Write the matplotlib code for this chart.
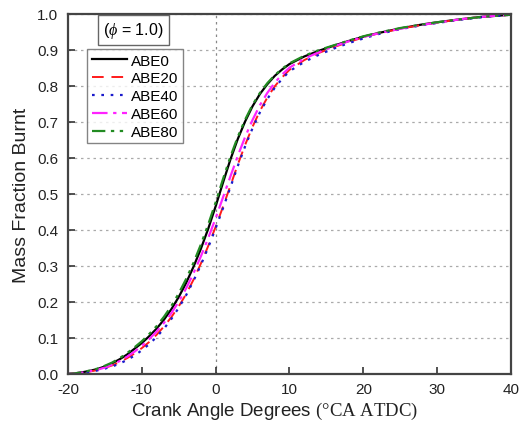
import matplotlib
matplotlib.use("Agg")
import matplotlib.pyplot as plt
import numpy as np

plt.rcParams['font.family'] = ['Liberation Sans', 'DejaVu Sans']
plt.rcParams['mathtext.fontset'] = 'custom'
plt.rcParams['mathtext.rm'] = 'Liberation Serif'
plt.rcParams['mathtext.it'] = 'Liberation Serif:italic'
plt.rcParams['axes.unicode_minus'] = False

crank = [-20, -19, -18, -17, -16, -15, -14, -13, -12, -11, -10, -9, -8, -7, -6, -5, -4, -3, -2, -1,
         0, 1, 2, 3, 4, 5, 6, 7, 8, 9, 10, 12, 14, 16, 18, 20, 22, 25, 28, 30, 33, 36, 40]

abe0 = [0.000, 0.002, 0.005, 0.009, 0.014, 0.021, 0.030, 0.041, 0.054, 0.070, 0.086, 0.105, 0.126,
        0.151, 0.180, 0.214, 0.253, 0.298, 0.348, 0.404, 0.466, 0.532, 0.596, 0.653, 0.702, 0.744,
        0.778, 0.805, 0.828, 0.846, 0.861, 0.882, 0.898, 0.912, 0.925, 0.937, 0.947, 0.960, 0.971,
        0.977, 0.985, 0.992, 0.998]
abe20 = [0.000, 0.002, 0.004, 0.007, 0.011, 0.017, 0.024, 0.033, 0.044, 0.057, 0.072, 0.089, 0.109,
         0.132, 0.158, 0.188, 0.222, 0.262, 0.307, 0.356, 0.409, 0.465, 0.523, 0.582, 0.637, 0.687,
         0.731, 0.768, 0.799, 0.824, 0.845, 0.872, 0.892, 0.908, 0.922, 0.935, 0.946, 0.959, 0.970,
         0.976, 0.985, 0.992, 0.998]
abe40 = [0.000, 0.001, 0.003, 0.006, 0.010, 0.015, 0.021, 0.029, 0.039, 0.051, 0.066, 0.083, 0.103,
         0.126, 0.153, 0.184, 0.219, 0.259, 0.303, 0.352, 0.405, 0.461, 0.519, 0.578, 0.633, 0.683,
         0.727, 0.764, 0.795, 0.820, 0.841, 0.867, 0.887, 0.904, 0.919, 0.932, 0.944, 0.958, 0.969,
         0.975, 0.984, 0.991, 0.998]
abe60 = [0.000, 0.002, 0.004, 0.008, 0.012, 0.018, 0.026, 0.036, 0.048, 0.062, 0.078, 0.097, 0.118,
         0.142, 0.169, 0.201, 0.238, 0.280, 0.327, 0.378, 0.433, 0.491, 0.549, 0.606, 0.659, 0.706,
         0.747, 0.781, 0.809, 0.832, 0.851, 0.876, 0.894, 0.910, 0.924, 0.936, 0.946, 0.959, 0.970,
         0.976, 0.985, 0.992, 0.998]
abe80 = [0.000, 0.002, 0.005, 0.010, 0.015, 0.023, 0.032, 0.044, 0.058, 0.074, 0.091, 0.111, 0.133,
         0.159, 0.189, 0.224, 0.264, 0.309, 0.360, 0.416, 0.477, 0.542, 0.604, 0.659, 0.707, 0.748,
         0.781, 0.808, 0.830, 0.848, 0.863, 0.884, 0.900, 0.913, 0.926, 0.938, 0.948, 0.961, 0.971,
         0.977, 0.985, 0.992, 0.998]

series_names = ["ABE0", "ABE20", "ABE40", "ABE60", "ABE80"]
x_ticks = [-20, -10, 0, 10, 20, 30, 40]
y_ticks = [0.0, 0.1, 0.2, 0.3, 0.4, 0.5, 0.6, 0.7, 0.8, 0.9, 1.0]

fig = plt.figure(figsize=(5.21, 4.27), dpi=100)
ax = fig.add_axes([68/521, 1 - 375/427, (511-68)/521, (375-15)/427])

styles = [
    dict(color='black', linestyle='-', linewidth=1.6),
    dict(color='#ff1a1a', linestyle=(0, (6, 4)), linewidth=1.4),
    dict(color='#1a1acc', linestyle=(0, (1.2, 3)), linewidth=1.6),
    dict(color='#ff22ff', linestyle=(0, (7, 2.5, 1.5, 2.5)), linewidth=1.6),
    dict(color='#228b22', linestyle=(0, (6, 2.5, 1.5, 2.5, 1.5, 2.5)), linewidth=1.6),
]
for name, ys, st in zip(series_names, [abe0, abe20, abe40, abe60, abe80], styles):
    ax.plot(crank, ys, label=name, **st)

ax.set_xlim(-20, 40)
ax.set_ylim(0, 1.0)
ax.set_xticks(x_ticks)
ax.set_yticks(y_ticks)
ax.set_yticklabels([f"{v:.1f}" for v in y_ticks])
ax.yaxis.grid(True, linestyle=(0, (2, 3)), color='#aaaaaa', linewidth=0.9)
ax.axvline(0, linestyle=(0, (2, 3)), color='#888888', linewidth=0.9, zorder=0)
ax.tick_params(direction='in', length=5, width=1.2, labelsize=11, color='#333333',
               labelcolor='#222222', top=False, right=False)
ax.tick_params(axis='x', pad=6)
ax.tick_params(axis='y', pad=7)
for sp in ax.spines.values():
    sp.set_color('#444444')
    sp.set_linewidth(1.6)

ax.set_xlabel("Crank Angle Degrees $\\mathrm{(°CA\\ ATDC)}$", fontsize=13.5, color='#222222')
ax.xaxis.set_label_coords((275-68)/443, -0.072)
ax.set_ylabel("Mass Fraction Burnt", fontsize=14, labelpad=5, color='#222222')

leg = ax.legend(loc='upper left', bbox_to_anchor=((87-68)/443, (375-50)/360), fontsize=11,
                frameon=True, fancybox=False, edgecolor='#666666', handlelength=2.3,
                handletextpad=0.3, borderpad=0.3, labelspacing=0.25, borderaxespad=0)
leg.get_frame().set_linewidth(1.0)

ax.text((133.5-68)/443, (375-31)/360, "($\\mathit{\\phi}$ = 1.0)", transform=ax.transAxes,
        ha='center', va='center', fontsize=11.5,
        bbox=dict(boxstyle='square,pad=0.3', fc='white', ec='#666666', lw=1.0))

fig.savefig("out.png", dpi=100)
